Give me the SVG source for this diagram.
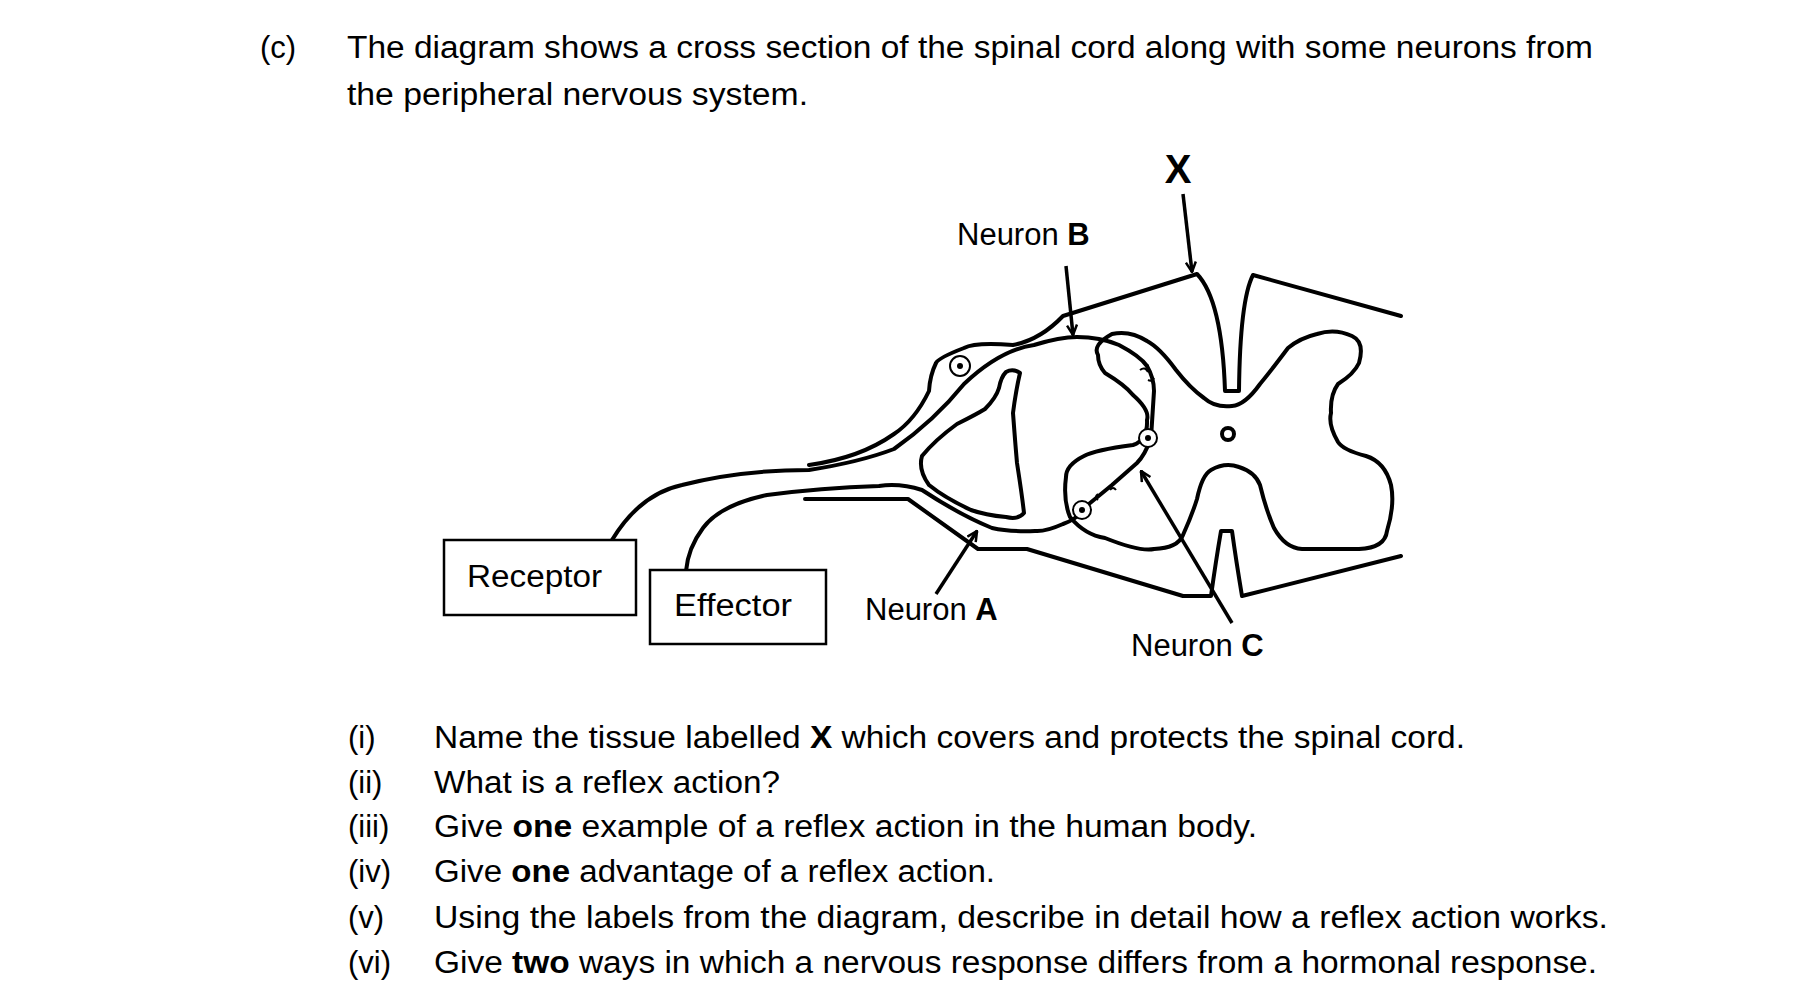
<svg xmlns="http://www.w3.org/2000/svg" width="1818" height="1002" viewBox="0 0 1818 1002">
<style>
text{font-family:"Liberation Sans",Arial,sans-serif;fill:#000}
.q{font-size:31px}
.l{font-size:31px}
.s{fill:none;stroke:#000;stroke-width:4;stroke-linejoin:round;stroke-linecap:round}
.a{fill:none;stroke:#000;stroke-width:3.5}
.box{fill:#fff;stroke:#000;stroke-width:2.5}
</style>
<defs>
<marker id="ah" viewBox="0 0 12 12" refX="11" refY="6" markerWidth="12" markerHeight="12" markerUnits="userSpaceOnUse" orient="auto">
<path d="M1,1 L11,6 L1,11" fill="none" stroke="#000" stroke-width="2.5"/>
</marker>
</defs>
<rect width="1818" height="1002" fill="#fff"/>
<g id="header">
<text class="q" x="260" y="58">(c)</text>
<text class="q" x="347" y="58" textLength="1246" lengthAdjust="spacingAndGlyphs">The diagram shows a cross section of the spinal cord along with some neurons from</text>
<text class="q" x="347" y="105" textLength="461" lengthAdjust="spacingAndGlyphs">the peripheral nervous system.</text>
</g>
<g id="spinal-cord">
<path class="s" d="M1401,316 L1253,275 Q1240,300 1239,391 L1225,391 Q1222,300 1197,274 L1063,316 Q1040,340 1013,345 Q975,342 964,348 Q938,358 936,363 Q930,375 929,391 Q915,420 894,434 Q860,458 809,465"/>
<path class="s" d="M1401,556 L1242,596 Q1236,560 1232,531 L1221,531 Q1216,560 1211,596 L1183,596 L1027,549 L978,549 L908,499 L879,499 L805,499"/>
<path class="s" d="M1112,334 Q1092,345 1098,355 Q1098,365 1105,373 Q1125,385 1133,395 Q1150,410 1147,420 Q1148,440 1133,445 Q1095,450 1084,456 Q1066,465 1066,477 Q1063,500 1070,517 Q1085,535 1105,538 Q1140,552 1154,549 Q1178,548 1183,535 Q1192,515 1197,499 Q1202,475 1211,470 Q1225,462 1239,467 Q1255,472 1260,485 Q1266,510 1274,528 Q1285,548 1302,549 L1359,549 Q1385,548 1387,531 Q1395,505 1391,485 Q1385,462 1366,456 Q1343,450 1338,442 Q1328,425 1331,413 Q1330,395 1338,384 Q1354,374 1359,363 Q1365,342 1352,336 Q1335,328 1317,334 Q1300,338 1288,348 Q1270,372 1260,384 Q1245,405 1232,406 Q1215,408 1204,398 Q1190,388 1176,370 Q1160,348 1147,341 Q1130,330 1112,334 Z"/>
<circle class="s" cx="1228" cy="434" r="6" stroke-width="3"/>
<path class="s" d="M1006,372 Q1013,368 1020,373 Q1016,390 1013,413 Q1015,440 1017,463 Q1022,495 1024,513 Q1018,520 1006,517 Q985,515 971,510 Q945,498 929,485 Q918,470 922,456 Q935,440 957,424 Q977,414 985,409 Q996,398 999,388 Q1001,377 1006,372 Z"/>
</g>
<g id="neurons">
<path class="s" d="M612,540 Q640,494 682,485 Q740,470 809,470 Q860,462 894,449 Q935,420 964,384 Q1000,350 1034,345 Q1060,337 1077,337 Q1100,337 1119,345 Q1140,356 1147,366"/>
<path class="s" stroke-width="2.5" d="M1147,366 Q1154,378 1154,391 L1151,438 Q1145,455 1137,463 L1112,485 L1084,508"/>
<path class="s" d="M1084,510 Q1075,520 1063,524 Q1045,532 1035,531 Q1010,532 992,528 Q960,515 922,490 Q900,483 879,486 Q820,488 767,495 Q720,505 703,528 Q688,548 686,571"/>
<circle cx="960" cy="366" r="10" fill="#fff" stroke="#000" stroke-width="2"/>
<circle cx="960" cy="366" r="3" fill="#000"/>
<circle cx="1148" cy="438" r="9" fill="#fff" stroke="#000" stroke-width="2"/>
<circle cx="1148" cy="438" r="3" fill="#000"/>
<circle cx="1082" cy="510" r="9" fill="#fff" stroke="#000" stroke-width="2"/>
<circle cx="1082" cy="510" r="3" fill="#000"/>
<path d="M1140,370 q5,-4 8,2 M1148,380 q4,2 6,-2 M1098,500 q-4,-3 0,-6 M1110,490 q3,-4 6,0" fill="none" stroke="#000" stroke-width="2"/>
</g>
<g id="receptor"><rect class="box" x="444" y="540" width="192" height="75"/><text class="l" x="467" y="587" textLength="135" lengthAdjust="spacingAndGlyphs">Receptor</text></g>
<g id="effector"><rect class="box" x="650" y="570" width="176" height="74"/><text class="l" x="674" y="616" textLength="118" lengthAdjust="spacingAndGlyphs">Effector</text></g>
<g id="labels">
<text x="1178" y="183" text-anchor="middle" font-size="40" font-weight="bold">X</text>
<text class="l" x="957" y="245">Neuron <tspan font-weight="bold">B</tspan></text>
<text class="l" x="865" y="620">Neuron <tspan font-weight="bold">A</tspan></text>
<text class="l" x="1131" y="656">Neuron <tspan font-weight="bold">C</tspan></text>
</g>
<g id="connectors">
<line class="a" x1="1183" y1="194" x2="1192" y2="272" marker-end="url(#ah)"/>
<line class="a" x1="1066" y1="266" x2="1073" y2="335" marker-end="url(#ah)"/>
<line class="a" x1="936" y1="594" x2="977" y2="531" marker-end="url(#ah)"/>
<line class="a" x1="1232" y1="623" x2="1141" y2="471" marker-end="url(#ah)"/>
</g>
<g id="questions">
<text class="q" x="348" y="748">(i)</text>
<text class="q" x="434" y="748" textLength="1031" lengthAdjust="spacingAndGlyphs">Name the tissue labelled <tspan font-weight="bold">X</tspan> which covers and protects the spinal cord.</text>
<text class="q" x="348" y="793">(ii)</text>
<text class="q" x="434" y="793" textLength="346" lengthAdjust="spacingAndGlyphs">What is a reflex action?</text>
<text class="q" x="348" y="837">(iii)</text>
<text class="q" x="434" y="837" textLength="823" lengthAdjust="spacingAndGlyphs">Give <tspan font-weight="bold">one</tspan> example of a reflex action in the human body.</text>
<text class="q" x="348" y="882">(iv)</text>
<text class="q" x="434" y="882" textLength="561" lengthAdjust="spacingAndGlyphs">Give <tspan font-weight="bold">one</tspan> advantage of a reflex action.</text>
<text class="q" x="348" y="928">(v)</text>
<text class="q" x="434" y="928" textLength="1174" lengthAdjust="spacingAndGlyphs">Using the labels from the diagram, describe in detail how a reflex action works.</text>
<text class="q" x="348" y="973">(vi)</text>
<text class="q" x="434" y="973" textLength="1163" lengthAdjust="spacingAndGlyphs">Give <tspan font-weight="bold">two</tspan> ways in which a nervous response differs from a hormonal response.</text>
</g>
</svg>
